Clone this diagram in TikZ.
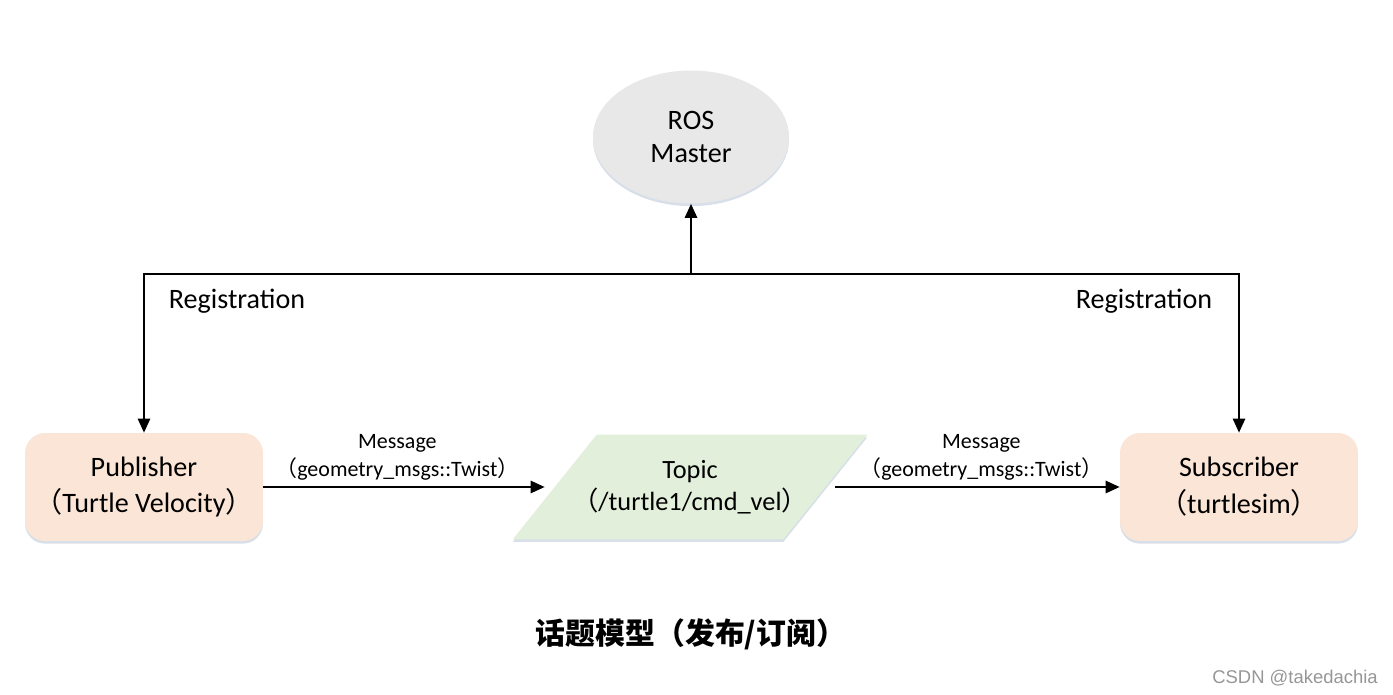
\documentclass[tikz,border=0pt]{standalone}
\usepackage{fontspec}
\setmainfont{Carlito}
\newfontfamily\cjk{Noto Sans CJK SC}
\newfontfamily\wmfont{Liberation Sans}
\usetikzlibrary{calc,shapes.geometric,arrows.meta,shadows,backgrounds}

\definecolor{peach}{HTML}{FBE5D6}
\definecolor{leaf}{HTML}{E2EFDA}
\definecolor{mastergray}{HTML}{E8E8E8}
\definecolor{shade}{RGB}{190,202,218}
\definecolor{wmgray}{RGB}{150,150,150}

\begin{document}
\begin{tikzpicture}[x=0.02cm, y=-0.02cm,
  soft/.style={drop shadow={shadow xshift=0pt, shadow yshift=-1.5pt, fill=shade, opacity=0.6}},
  lbl/.style={font=\fontsize{16}{18.5}\selectfont, align=center},
  box/.style={lbl, rounded corners=0.4cm, fill=peach, minimum width=4.76cm, minimum height=2.16cm,
              font=\fontsize{16}{21}\selectfont, soft},
  msg/.style={align=center, font=\fontsize{12.5}{16}\selectfont},
  arr/.style={-{Triangle[length=8pt,width=7pt]}, line width=1.1pt}]

\useasboundingbox (0,0) rectangle (1393,695);

\node[ellipse, fill=mastergray, minimum width=3.92cm, minimum height=2.66cm, inner sep=0pt,
      lbl, font=\fontsize{16}{18.5}\selectfont, soft] (master) at (691,137) {ROS\\Master};

\node[box] (pub) at (144,487) {Publisher\\{\cjk （}Turtle Velocity{\cjk ）}};
\node[box] (sub) at (1239,487) {Subscriber\\{\cjk （}turtlesim{\cjk ）}};

\node[lbl, font=\fontsize{15}{18.5}\selectfont, minimum width=5.4cm, minimum height=2.08cm] (topic) at (690,487) {Topic\\{\cjk （}/turtle1/cmd\_vel{\cjk ）}};
\begin{scope}[on background layer]
\fill[leaf, soft] ($(topic.north west)+(42,0)$) -- ($(topic.north east)+(42,0)$)
  -- ($(topic.south east)+(-42,0)$) -- ($(topic.south west)+(-42,0)$) -- cycle;
\end{scope}

\coordinate (bus) at (691,274);
\draw[arr] (bus) -- (master);
\draw[arr] (bus) -| (pub.north);
\draw[arr] (bus) -| (sub.north);

\node[lbl] (reg1) at (237,301) {Registration};
\node[lbl] (reg2) at (1144,301) {Registration};

\draw[arr, shorten >=0.2cm] (pub) -- node[above, msg, pos=0.46] (msg1) {Message\\{\cjk （}geometry\_msgs::Twist{\cjk ）}} (topic);
\draw[arr, shorten <=0.2cm] (topic) -- node[above, msg, pos=0.53] (msg2) {Message\\{\cjk （}geometry\_msgs::Twist{\cjk ）}} (sub);

\node[font=\cjk\bfseries\fontsize{17}{20}\selectfont] (title) at (691,634) {话题模型（发布/订阅）};
\node[font=\wmfont\fontsize{10.5}{12}\selectfont, text=wmgray] (wm) at (1295,678) {CSDN @takedachia};
\end{tikzpicture}
\end{document}
